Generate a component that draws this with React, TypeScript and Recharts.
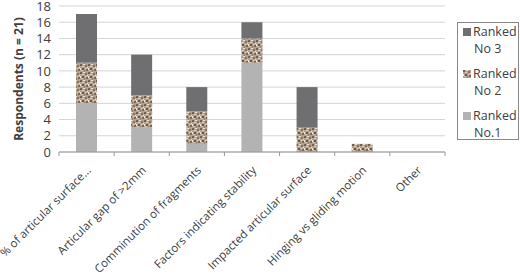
import { BarChart, Bar, XAxis, YAxis, CartesianGrid } from 'recharts';

// stacked bars: how respondents ranked each factor (n = 21)

const categories = [
  '% of articular surface...',
  'Articular gap of >2mm',
  'Comminution of fragments',
  'Factors indicating stability',
  'Impacted articular surface',
  'Hinging vs gliding motion',
  'Other',
];
const rank1 = [6, 3, 1, 11, 0, 0, 0];
const rank2 = [5, 4, 4, 3, 3, 1, 0];
const rank3 = [6, 5, 3, 2, 5, 0, 0];
const yTicks = [0, 2, 4, 6, 8, 10, 12, 14, 16, 18];

const data = categories.map((name, i) => ({
  name,
  rank1: rank1[i],
  rank2: rank2[i],
  rank3: rank3[i],
}));

const W = 520;
const H = 277;
const PLOT_LEFT = 59;
const PLOT_RIGHT = 445;
const BAND = (PLOT_RIGHT - PLOT_LEFT) / categories.length;
const FONT = '"Open Sans", sans-serif';
const TEXT = '#404040';

// x tick: rotated label plus Excel-style marks between categories
function CategoryTick(props: any) {
  const { x, y, payload, index } = props;
  const tx = x + 5;
  const ty = y + 11;
  return (
    <g>
      <line x1={x - BAND / 2} y1={y - 8} x2={x - BAND / 2} y2={y - 4} stroke="#999" />
      {index === categories.length - 1 && (
        <line x1={x + BAND / 2} y1={y - 8} x2={x + BAND / 2} y2={y - 4} stroke="#999" />
      )}
      <text
        x={tx}
        y={ty}
        textAnchor="end"
        fontSize={11.5}
        fontFamily={FONT}
        fill={TEXT}
        transform={`rotate(-45, ${tx}, ${ty})`}
      >
        {payload.value}
      </text>
    </g>
  );
}

const legendItems = [
  { label: 'No 3', fill: '#6f6f71' },
  { label: 'No 2', fill: 'url(#speckle)' },
  { label: 'No.1', fill: '#b3b3b3' },
];

function LegendBox() {
  return (
    <div
      style={{
        position: 'absolute',
        left: 457,
        top: 22,
        width: 62,
        height: 118,
        boxSizing: 'border-box',
        border: '1px solid #888',
        background: '#fff',
        padding: '0 0 0 5px',
        fontFamily: FONT,
        fontSize: 12.5,
        color: TEXT,
        lineHeight: '17px',
      }}
    >
      {legendItems.map((it) => (
        <div key={it.label} style={{ display: 'flex', marginBottom: 8 }}>
          <svg width={8} height={8} style={{ marginTop: 5, marginRight: 2, flexShrink: 0 }}>
            <rect width={8} height={8} fill={it.fill} />
          </svg>
          <div>
            Ranked
            <br />
            <span style={{ paddingLeft: 1 }}>{it.label}</span>
          </div>
        </div>
      ))}
    </div>
  );
}

export default function App() {
  return (
    <div style={{ position: 'absolute', left: 0, top: 0, width: W, height: H, background: '#fff' }}>
      <svg width={0} height={0} style={{ position: 'absolute' }}>
        <defs>
          <pattern id="speckle" width="8" height="8" patternUnits="userSpaceOnUse">
            <rect width="8" height="8" fill="#b4a291" />
            <rect x="0" y="0" width="2" height="2" fill="#75604f" />
            <rect x="3" y="0" width="2" height="1" fill="#e8dfd5" />
            <rect x="5" y="1" width="2" height="2" fill="#8a7462" />
            <rect x="2" y="2" width="2" height="1" fill="#d9cdc0" />
            <rect x="0" y="4" width="1" height="2" fill="#efe8e0" />
            <rect x="2" y="4" width="2" height="2" fill="#6b5748" />
            <rect x="5" y="4" width="2" height="1" fill="#d4c6b7" />
            <rect x="6" y="5" width="2" height="2" fill="#7c6655" />
            <rect x="1" y="6" width="2" height="1" fill="#cdbfb0" />
            <rect x="4" y="6" width="1" height="2" fill="#94806e" />
            <rect x="7" y="3" width="1" height="1" fill="#ede5dc" />
          </pattern>
        </defs>
      </svg>
      <BarChart
        width={W}
        height={H}
        data={data}
        margin={{ top: 6, right: W - PLOT_RIGHT, bottom: 0, left: 0 }}
        barSize={21}
      >
        <CartesianGrid vertical={false} stroke="#d4d4d4" />
        <XAxis
          dataKey="name"
          interval={0}
          height={125}
          tickLine={false}
          axisLine={{ stroke: '#999' }}
          tick={<CategoryTick />}
        />
        <YAxis
          width={PLOT_LEFT}
          domain={[0, 18]}
          ticks={yTicks}
          interval={0}
          axisLine={false}
          tickLine={false}
          tick={{ fontSize: 13, fontFamily: FONT, fill: TEXT }}
          label={{
            value: 'Respondents (n = 21)',
            angle: -90,
            position: 'insideLeft',
            offset: 19,
            style: { textAnchor: 'middle', fontSize: 12, fontWeight: 'bold', fontFamily: FONT, fill: TEXT },
          }}
        />
        <Bar dataKey="rank1" stackId="a" fill="#b3b3b3" isAnimationActive={false} />
        <Bar dataKey="rank2" stackId="a" fill="url(#speckle)" isAnimationActive={false} />
        <Bar dataKey="rank3" stackId="a" fill="#6f6f71" isAnimationActive={false} />
      </BarChart>
      <LegendBox />
    </div>
  );
}
